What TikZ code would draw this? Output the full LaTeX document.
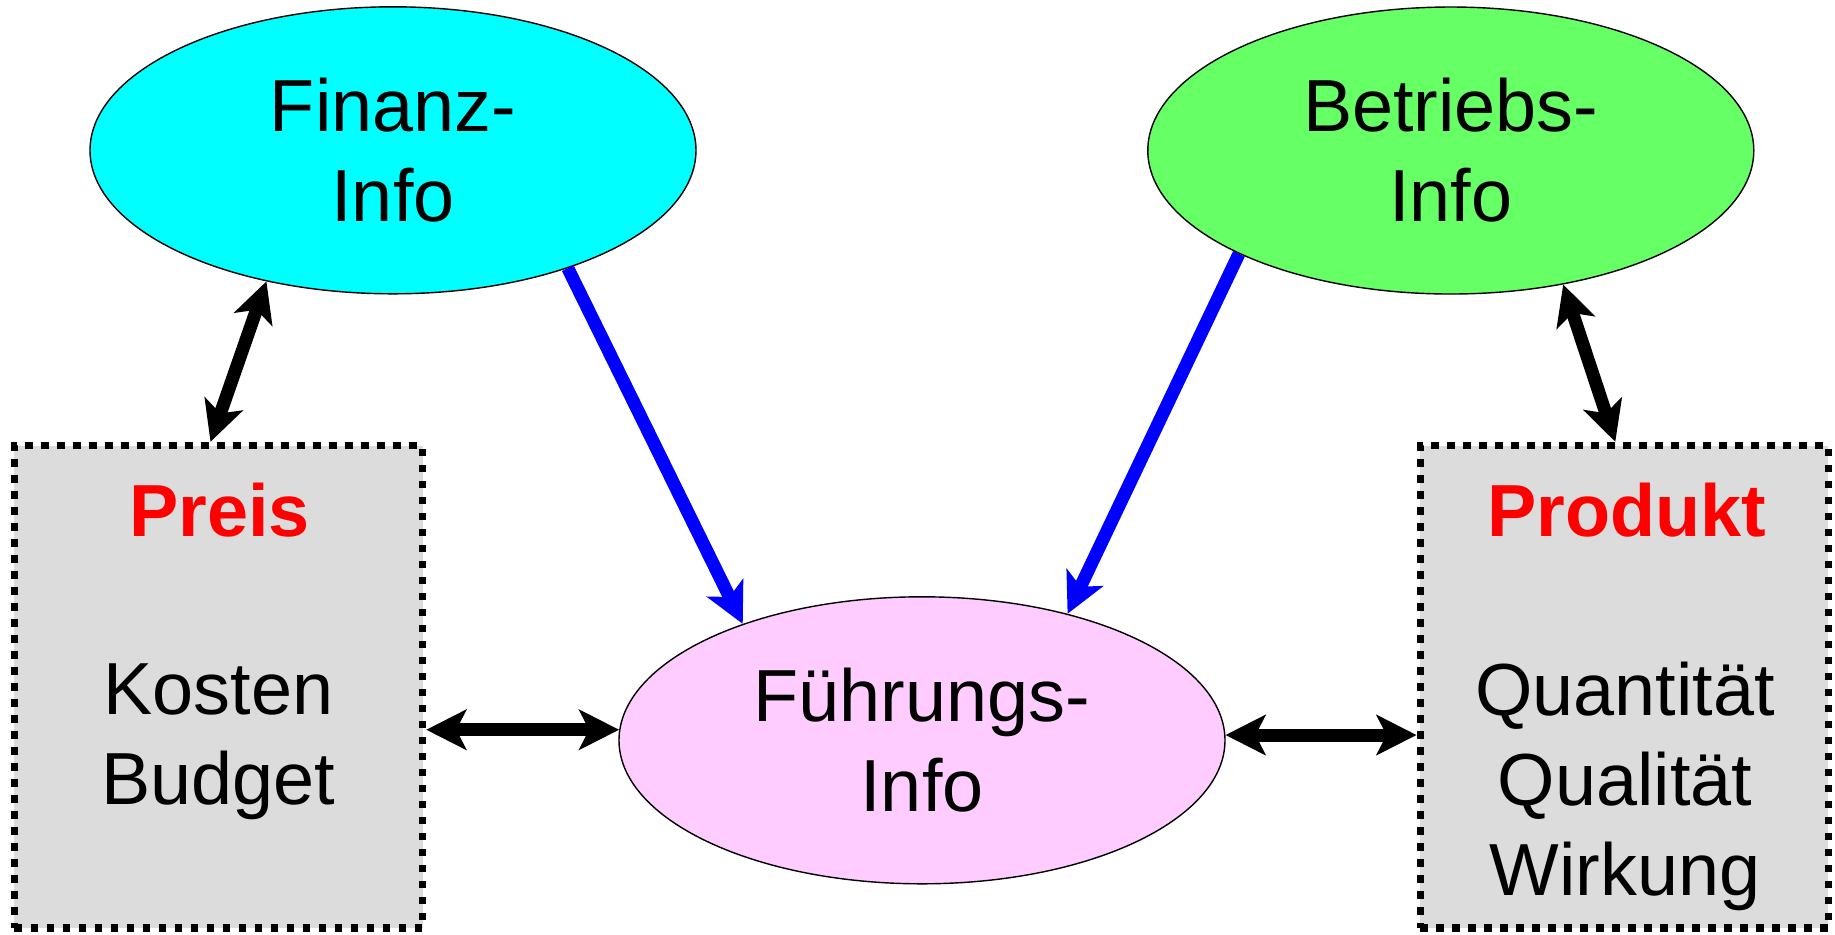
\documentclass[tikz,border=0pt]{standalone}
\usepackage{fontspec}
\setmainfont{Liberation Sans}
\usetikzlibrary{shapes.geometric,arrows.meta}

\definecolor{finanzcyan}{HTML}{00FFFF}
\definecolor{betriebsgreen}{HTML}{66FF66}
\definecolor{fuehrungpink}{HTML}{FFCCFF}
\definecolor{boxgray}{HTML}{DCDCDC}
\definecolor{titlered}{HTML}{FF0000}
\definecolor{flowblue}{HTML}{0000FF}

\tikzset{
	infoellipse/.style={ellipse, draw=black, line width=0.4pt, minimum width=6.06cm,
		minimum height=2.87cm, inner sep=0pt, align=center, font=\fontsize{21}{25.6}\selectfont},
	infobox/.style={draw=black, fill=boxgray, line width=0.075cm,
		dash pattern=on 0.075cm off 0.085cm, minimum width=4.08cm, minimum height=4.825cm, inner sep=0pt},
	boxtitle/.style={anchor=base, text=titlered, font=\fontsize{21}{25.6}\selectfont\bfseries},
	boxtext/.style={align=center, font=\fontsize{21}{25.6}\selectfont},
	infotip/.tip={Stealth[length=0.4cm,width=0.4cm,inset=0.1cm]},
	dblarrow/.style={draw=black, line width=0.13cm, infotip-infotip},
	bluearrow/.style={draw=flowblue, line width=0.13cm, -infotip}
}

\begin{document}
\begin{tikzpicture}
		\useasboundingbox (0, 0) rectangle (18.35, -9.34);

		% 画三个信息椭圆
		\node[infoellipse, fill=finanzcyan] (finanz) at (3.93, -1.503) {Finanz-\\Info};
		\node[infoellipse, fill=betriebsgreen] (betriebs) at (14.508, -1.505) {Betriebs-\\Info};
		\node[infoellipse, fill=fuehrungpink] (fuehrung) at (9.22, -7.403) {Führungs-\\Info};

		% 画左右两个虚线框及其文字
		\node[infobox] (preis) at (2.185, -6.868) {};
		\node[infobox] (produkt) at (16.243, -6.868) {};
		\node[boxtitle] (preistitle) at (2.195, -5.367) {Preis};
		\node[boxtitle] (produkttitle) at (16.267, -5.367) {Produkt};
		\node[boxtext] (preistext) at (2.183, -7.422) {Kosten\\Budget};
		\node[boxtext] (produkttext) at (16.25, -7.863) {Quantität\\Qualität\\Wirkung};

		% 画双向箭头
		\draw[dblarrow] (finanz.226.8) -- ([xshift=-0.08cm]preis.north);
		\draw[dblarrow] (betriebs.-50.9) -- ([xshift=-0.09cm]produkt.north);
		\draw[dblarrow] (preis.east |- fuehrung.178.6) -- (fuehrung.178.6);
		\draw[dblarrow] (fuehrung.1.4) -- (produkt.west |- fuehrung.1.4);

		% 画蓝色箭头
		\draw[bluearrow] (finanz.-34.1) -- (fuehrung.147.3);
		\draw[bluearrow] (betriebs.-154.9) -- (fuehrung.41.3);
	\end{tikzpicture}
\end{document}
